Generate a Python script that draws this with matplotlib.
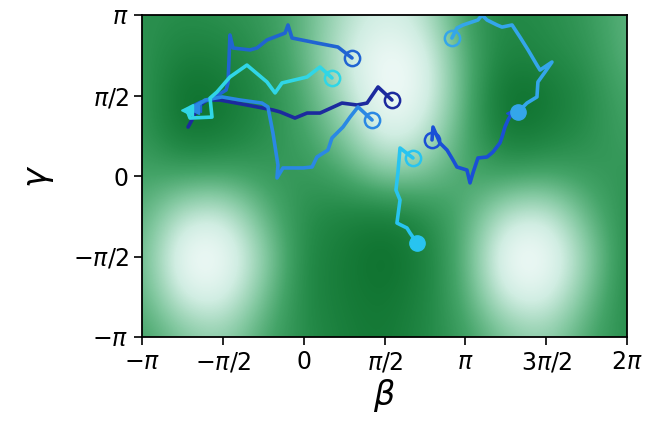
import numpy as np
import matplotlib
matplotlib.use("Agg")
import matplotlib.pyplot as plt
from matplotlib.colors import LinearSegmentedColormap

pi = np.pi

# cost landscape sampled every pi/4 (rows: gamma = pi ... -pi, cols: beta = -pi ... 2pi)
landscape = np.array([
    [0.70, 0.72, 0.70, 0.66, 0.52, 0.28, 0.15, 0.25, 0.64, 0.75, 0.72, 0.66, 0.52],
    [0.68, 0.80, 0.78, 0.70, 0.52, 0.20, 0.00, 0.10, 0.56, 0.80, 0.74, 0.70, 0.52],
    [0.65, 0.90, 0.85, 0.74, 0.58, 0.28, 0.00, 0.08, 0.55, 0.90, 0.85, 0.74, 0.58],
    [0.66, 0.85, 0.82, 0.72, 0.62, 0.42, 0.10, 0.22, 0.58, 0.85, 0.80, 0.72, 0.62],
    [0.60, 0.60, 0.58, 0.64, 0.68, 0.60, 0.42, 0.45, 0.60, 0.62, 0.58, 0.64, 0.68],
    [0.55, 0.22, 0.16, 0.50, 0.72, 0.78, 0.82, 0.74, 0.56, 0.22, 0.16, 0.50, 0.72],
    [0.52, 0.00, 0.00, 0.35, 0.75, 0.82, 0.90, 0.80, 0.54, 0.00, 0.00, 0.35, 0.75],
    [0.55, 0.15, 0.10, 0.45, 0.75, 0.82, 0.86, 0.78, 0.57, 0.15, 0.10, 0.45, 0.75],
    [0.62, 0.45, 0.36, 0.58, 0.72, 0.80, 0.84, 0.75, 0.64, 0.45, 0.36, 0.58, 0.72],
])

# optimisation paths, in units of pi
beta_a = [0.299, 0.212, 0.082, -0.072, -0.097, -0.115, -0.227, -0.289, -0.332, -0.437,
          -0.456, -0.462, -0.468, -0.480, -0.561, -0.641, -0.672]
gamma_a = [0.733, 0.801, 0.826, 0.857, 0.938, 0.888, 0.845, 0.795, 0.783, 0.795,
           0.876, 0.720, 0.578, 0.534, 0.484, 0.453, 0.435]

beta_b = [0.175, 0.101, 0.021, -0.134, -0.177, -0.227, -0.351, -0.456, -0.536, -0.579,
          -0.567, -0.703, -0.722]
gamma_b = [0.609, 0.677, 0.615, 0.578, 0.516, 0.584, 0.689, 0.615, 0.522, 0.484,
           0.366, 0.360, 0.410]

beta_c = [0.546, 0.460, 0.392, 0.330, 0.237, 0.101, 0.021, -0.054, -0.146, -0.190,
          -0.351, -0.518, -0.598, -0.654, -0.691, -0.715]
gamma_c = [0.472, 0.553, 0.453, 0.441, 0.453, 0.391, 0.391, 0.360, 0.398, 0.410,
           0.441, 0.472, 0.472, 0.429, 0.348, 0.304]

beta_d = [0.423, 0.336, 0.287, 0.243, 0.175, 0.150, 0.082, 0.052, -0.004, -0.128,
          -0.165, -0.159, -0.190, -0.221, -0.258, -0.394, -0.505, -0.610, -0.685]
gamma_d = [0.348, 0.429, 0.366, 0.304, 0.236, 0.161, 0.118, 0.056, 0.050, 0.050,
           -0.012, 0.068, 0.267, 0.429, 0.453, 0.472, 0.491, 0.472, 0.422]

beta_e = [0.676, 0.596, 0.583, 0.571, 0.596, 0.577, 0.639, 0.658, 0.701]
gamma_e = [0.112, 0.174, 0.019, -0.087, -0.149, -0.292, -0.323, -0.354, -0.416]

beta_f = [0.917, 0.948, 0.986, 1.078, 1.103, 1.134, 1.196, 1.227, 1.289, 1.338,
          1.388, 1.443, 1.462, 1.536, 1.493, 1.449, 1.443, 1.381, 1.326]
gamma_f = [0.857, 0.919, 0.938, 0.969, 1.000, 0.969, 0.938, 0.925, 0.938, 0.863,
           0.783, 0.689, 0.658, 0.708, 0.646, 0.584, 0.491, 0.453, 0.398]

beta_g = [0.794, 0.800, 0.843, 0.887, 0.924, 0.948, 1.010, 1.029, 1.047, 1.078,
          1.134, 1.171, 1.214, 1.227, 1.245, 1.264, 1.289]
gamma_g = [0.224, 0.304, 0.205, 0.161, 0.099, 0.056, 0.037, -0.043, 0.019, 0.112,
           0.118, 0.149, 0.205, 0.242, 0.304, 0.348, 0.391]

paths = [
    (beta_c, gamma_c, '#1c2a9e', None),
    (beta_g, gamma_g, '#1a4fd6', '<'),
    (beta_a, gamma_a, '#2064d2', '<'),
    (beta_d, gamma_d, '#2a88e4', '<'),
    (beta_f, gamma_f, '#34a6ea', 'o'),
    (beta_e, gamma_e, '#28c4f0', 'o'),
    (beta_b, gamma_b, '#30d6e6', '<'),
]

tick_vals = [-1, -0.5, 0, 0.5, 1, 1.5, 2]
tick_text = [r'$-\pi$', r'$-\pi/2$', r'$0$', r'$\pi/2$', r'$\pi$', r'$3\pi/2$', r'$2\pi$']

# white -> green, slightly cool at the light end
greens = LinearSegmentedColormap.from_list('greens', [
    (0.0, '#f6fcfc'), (0.2, '#d0ede2'), (0.45, '#82c8a0'),
    (0.65, '#44a468'), (0.8, '#248a48'), (1.0, '#076a26')])

fig = plt.figure(figsize=(6.46, 4.21), dpi=100)
ax = fig.add_axes([142 / 646, 1 - 337 / 421, 485 / 646, 322 / 421])

ax.imshow(landscape, cmap=greens, vmin=0, vmax=0.92, interpolation='bicubic',
          extent=[-1.125 * pi, 2.125 * pi, -1.125 * pi, 1.125 * pi],
          origin='upper', aspect='auto')

for b, g, col, end in paths:
    b = np.array(b) * pi
    g = np.array(g) * pi
    ax.plot(b, g, color=col, lw=2.6, solid_capstyle='round', solid_joinstyle='round')
    ax.plot(b[0], g[0], 'o', ms=11, mfc='none', mec=col, mew=1.8)
    if end == 'o':
        ax.plot(b[-1], g[-1], 'o', ms=11, color=col)
    elif end == '<':
        ax.plot(b[-1], g[-1], '<', ms=9, color=col)

ax.set_xlim(-pi, 2 * pi)
ax.set_ylim(-pi, pi)
ax.set_xticks(np.array(tick_vals) * pi)
ax.set_xticklabels(tick_text)
ax.set_yticks(np.array(tick_vals[:5]) * pi)
ax.set_yticklabels(tick_text[:5])
ax.tick_params(labelsize=17, length=6, width=1.2)
for s in ax.spines.values():
    s.set_linewidth(1.3)

ax.set_xlabel(r'$\beta$', fontsize=24, labelpad=2)
ax.set_ylabel(r'$\gamma$', fontsize=24, labelpad=12)

fig.savefig('out.png', dpi=100)
